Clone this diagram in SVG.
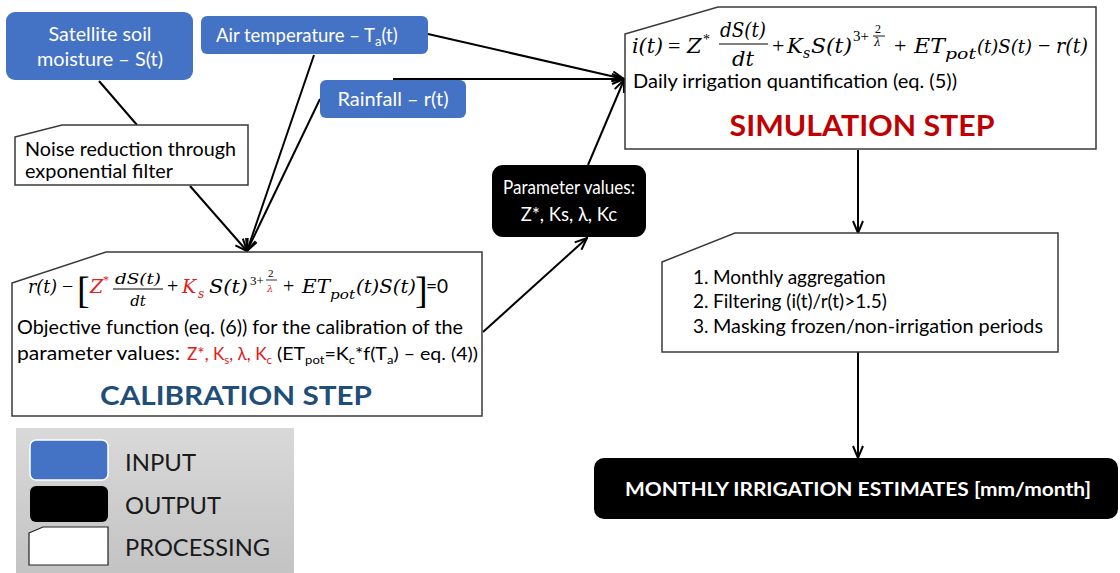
<svg xmlns="http://www.w3.org/2000/svg" width="1120" height="573" viewBox="0 0 1120 573">
<defs>
<style>
.s{font-family:Lato,"Liberation Sans",sans-serif;}
.w{fill:#fff;}
.m{font-family:"DejaVu Serif",serif;font-style:italic;fill:#000;}
.u{font-family:"Liberation Serif",serif;fill:#000;}
.red{fill:#E0201B;}
.inp{fill:#4472C4;}
.out{fill:#000;}
.proc{fill:#fff;stroke:#3a3a3a;stroke-width:1.5;}
.c{fill:none;stroke:#000;stroke-width:2;}
</style>
<marker id="arr" viewBox="0 0 14 12" refX="13" refY="6" markerWidth="14" markerHeight="12" orient="auto" markerUnits="userSpaceOnUse">
<path d="M1,1 L13,6 L1,11" fill="none" stroke="#000" stroke-width="2"/>
</marker>
<linearGradient id="lg" x1="0" y1="0" x2="0" y2="1">
<stop offset="0" stop-color="#d9d9d9"/>
<stop offset="1" stop-color="#c3c3c3"/>
</linearGradient>
</defs>
<rect width="1120" height="573" fill="#fff"/>

<g id="connectors">
<line class="c" x1="99" y1="81" x2="137" y2="125"/>
<line class="c" x1="190" y1="186" x2="247" y2="251" marker-end="url(#arr)"/>
<line class="c" x1="314" y1="55" x2="247" y2="251" marker-end="url(#arr)"/>
<line class="c" x1="320" y1="99" x2="247" y2="251" marker-end="url(#arr)"/>
<line class="c" x1="428" y1="34" x2="624" y2="79" marker-end="url(#arr)"/>
<line class="c" x1="393" y1="79" x2="624" y2="79" marker-end="url(#arr)"/>
<line class="c" x1="588" y1="165" x2="624" y2="80" marker-end="url(#arr)"/>
<line class="c" x1="483" y1="332" x2="587" y2="238" marker-end="url(#arr)"/>
<line class="c" x1="858" y1="150" x2="858" y2="233" marker-end="url(#arr)"/>
<line class="c" x1="858" y1="352" x2="858" y2="458" marker-end="url(#arr)"/>
</g>

<g id="satellite">
<rect class="inp" x="6" y="12" width="187" height="68" rx="9"/>
<text class="s w" x="100" y="41" font-size="18.5" text-anchor="middle" textLength="103" lengthAdjust="spacingAndGlyphs">Satellite soil</text>
<text class="s w" x="100" y="66" font-size="18.5" text-anchor="middle" textLength="126" lengthAdjust="spacingAndGlyphs">moisture – S(t)</text>
</g>

<g id="airtemp">
<rect class="inp" x="201" y="16" width="227" height="38" rx="6"/>
<text class="s w" x="216" y="42" font-size="18.5">Air temperature – T<tspan font-size="13" dy="4">a</tspan><tspan dy="-4">(t)</tspan></text>
</g>

<g id="rainfall">
<rect class="inp" x="320" y="80" width="146" height="38" rx="6"/>
<text class="s w" x="393" y="106" font-size="18.5" text-anchor="middle" textLength="111" lengthAdjust="spacingAndGlyphs">Rainfall – r(t)</text>
</g>

<g id="noise">
<polygon class="proc" points="15,137 62,125 248,125 248,185 15,185"/>
<text class="s" x="25" y="156" font-size="18.5" textLength="211" lengthAdjust="spacingAndGlyphs">Noise reduction through</text>
<text class="s" x="25" y="178" font-size="18.5" textLength="148" lengthAdjust="spacingAndGlyphs">exponential filter</text>
</g>

<g id="calibration">
<polygon class="proc" points="12,283 106,252 482,252 482,416 12,416"/>
<text class="m" x="28" y="293" font-size="19" textLength="29" lengthAdjust="spacingAndGlyphs">r(t)</text>
<text class="u" x="62" y="293" font-size="20">−</text>
<text class="u" x="77" y="303" font-size="38">[</text>
<text class="m red" x="90" y="293" font-size="19">Z</text>
<text class="u red" x="103" y="284" font-size="12">*</text>
<text class="m" x="138" y="284" font-size="15" text-anchor="middle" textLength="46" lengthAdjust="spacingAndGlyphs">dS(t)</text>
<line x1="113" y1="289" x2="163" y2="289" stroke="#000" stroke-width="1"/>
<text class="m" x="138" y="306" font-size="15" text-anchor="middle">dt</text>
<text class="u" x="167" y="293" font-size="20">+</text>
<text class="m red" x="182" y="293" font-size="19">K</text>
<text class="m red" x="198" y="298" font-size="12">s</text>
<text class="m" x="209" y="293" font-size="19" textLength="39" lengthAdjust="spacingAndGlyphs">S(t)</text>
<text class="u" x="250" y="285" font-size="13">3+</text>
<text class="u" x="268" y="277" font-size="11">2</text>
<line x1="266" y1="280" x2="277" y2="280" stroke="#000" stroke-width="0.8"/>
<text class="m red" x="267" y="292" font-size="10">λ</text>
<text class="u" x="283" y="293" font-size="20">+</text>
<text class="m" x="302" y="293" font-size="19" textLength="28" lengthAdjust="spacingAndGlyphs">ET</text>
<text class="m" x="330" y="299" font-size="13" textLength="25" lengthAdjust="spacingAndGlyphs">pot</text>
<text class="m" x="356" y="293" font-size="19" textLength="60" lengthAdjust="spacingAndGlyphs">(t)S(t)</text>
<text class="u" x="415" y="303" font-size="38">]</text>
<text class="s" x="426" y="293" font-size="19">=0</text>
<text class="s" x="17" y="334" font-size="19.5" textLength="446" lengthAdjust="spacingAndGlyphs">Objective function (eq. (6)) for the calibration of the</text>
<text class="s" x="17" y="360" font-size="18.5" textLength="163" lengthAdjust="spacingAndGlyphs">parameter values:</text>
<text class="s red" x="187" y="360" font-size="18" textLength="85" lengthAdjust="spacingAndGlyphs">Z*, K<tspan font-size="12" dy="4">s</tspan><tspan dy="-4">, λ, K</tspan><tspan font-size="12" dy="4">c</tspan></text>
<text class="s" x="277" y="360" font-size="18" textLength="201" lengthAdjust="spacingAndGlyphs">(ET<tspan font-size="12" dy="4">pot</tspan><tspan dy="-4">=K</tspan><tspan font-size="12" dy="4">c</tspan><tspan dy="-4">*f(T</tspan><tspan font-size="12" dy="4">a</tspan><tspan dy="-4">) – eq. (4))</tspan></text>
<text class="s" x="236" y="405" font-size="27" font-weight="bold" fill="#1F4E79" text-anchor="middle" textLength="272" lengthAdjust="spacingAndGlyphs">CALIBRATION STEP</text>
</g>

<g id="parameters">
<rect class="out" x="492" y="165" width="154" height="72" rx="11"/>
<text class="s w" x="569" y="194" font-size="19" text-anchor="middle" textLength="132" lengthAdjust="spacingAndGlyphs">Parameter values:</text>
<text class="s w" x="569" y="221" font-size="18.5" text-anchor="middle">Z*, Ks, λ, Kc</text>
</g>

<g id="simulation">
<polygon class="proc" points="625,34 718,7 1096,7 1096,149 625,149"/>
<text class="m" x="632" y="53" font-size="21" textLength="31" lengthAdjust="spacingAndGlyphs">i(t)</text>
<text class="u" x="668" y="53" font-size="22">=</text>
<text class="m" x="687" y="53" font-size="21">Z</text>
<text class="u" x="703" y="44" font-size="14">*</text>
<text class="m" x="743" y="37" font-size="21" text-anchor="middle" textLength="46" lengthAdjust="spacingAndGlyphs">dS(t)</text>
<line x1="719" y1="44" x2="768" y2="44" stroke="#000" stroke-width="1.2"/>
<text class="m" x="743" y="66" font-size="21" text-anchor="middle">dt</text>
<text class="u" x="772" y="53" font-size="22">+</text>
<text class="m" x="787" y="53" font-size="21">K</text>
<text class="m" x="803" y="58" font-size="14">s</text>
<text class="m" x="811" y="53" font-size="21" textLength="41" lengthAdjust="spacingAndGlyphs">S(t)</text>
<text class="u" x="853" y="41" font-size="15">3+</text>
<text class="u" x="875" y="33" font-size="12">2</text>
<line x1="873" y1="36" x2="885" y2="36" stroke="#000" stroke-width="0.9"/>
<text class="m" x="874" y="46" font-size="11">λ</text>
<text class="u" x="894" y="53" font-size="22">+</text>
<text class="m" x="914" y="53" font-size="21" textLength="31" lengthAdjust="spacingAndGlyphs">ET</text>
<text class="m" x="945" y="59" font-size="15" textLength="31" lengthAdjust="spacingAndGlyphs">pot</text>
<text class="m" x="977" y="53" font-size="19" textLength="55" lengthAdjust="spacingAndGlyphs">(t)S(t)</text>
<text class="u" x="1038" y="53" font-size="22">−</text>
<text class="m" x="1056" y="53" font-size="21" textLength="32" lengthAdjust="spacingAndGlyphs">r(t)</text>
<text class="s" x="633" y="88" font-size="18.5" textLength="324" lengthAdjust="spacingAndGlyphs">Daily irrigation quantification (eq. (5))</text>
<text class="s" x="862" y="136" font-size="28" font-weight="bold" fill="#C00000" text-anchor="middle" textLength="265" lengthAdjust="spacingAndGlyphs">SIMULATION STEP</text>
</g>

<g id="postprocessing">
<polygon class="proc" points="662,262 735,233 1058,233 1058,352 662,352"/>
<text class="s" x="693" y="284" font-size="19">1.</text>
<text class="s" x="713" y="284" font-size="19">Monthly aggregation</text>
<text class="s" x="693" y="308" font-size="19">2.</text>
<text class="s" x="713" y="308" font-size="19">Filtering (i(t)/r(t)&gt;1.5)</text>
<text class="s" x="693" y="333" font-size="19">3.</text>
<text class="s" x="713" y="333" font-size="19" textLength="330" lengthAdjust="spacingAndGlyphs">Masking frozen/non-irrigation periods</text>
</g>

<g id="output">
<rect class="out" x="594" y="458" width="524" height="61" rx="10"/>
<text class="s w" x="858" y="496" font-size="19" font-weight="bold" text-anchor="middle" textLength="466" lengthAdjust="spacingAndGlyphs">MONTHLY IRRIGATION ESTIMATES [mm/month]</text>
</g>

<g id="legend">
<rect x="16" y="428" width="278" height="145" fill="url(#lg)"/>
<rect x="30" y="440" width="78" height="40" rx="6" fill="#4472C4" stroke="#fff" stroke-width="1.5"/>
<rect x="30" y="486" width="78" height="36" rx="6" fill="#000"/>
<polygon points="29,533 43,527 108,527 108,565 29,565" fill="#fff" stroke="#222" stroke-width="1.2"/>
<text class="s" x="125" y="471" font-size="23" fill="#1a1a1a" textLength="71" lengthAdjust="spacingAndGlyphs">INPUT</text>
<text class="s" x="125" y="514" font-size="23" fill="#1a1a1a" textLength="96" lengthAdjust="spacingAndGlyphs">OUTPUT</text>
<text class="s" x="125" y="556" font-size="23" fill="#1a1a1a" textLength="145" lengthAdjust="spacingAndGlyphs">PROCESSING</text>
</g>
</svg>
